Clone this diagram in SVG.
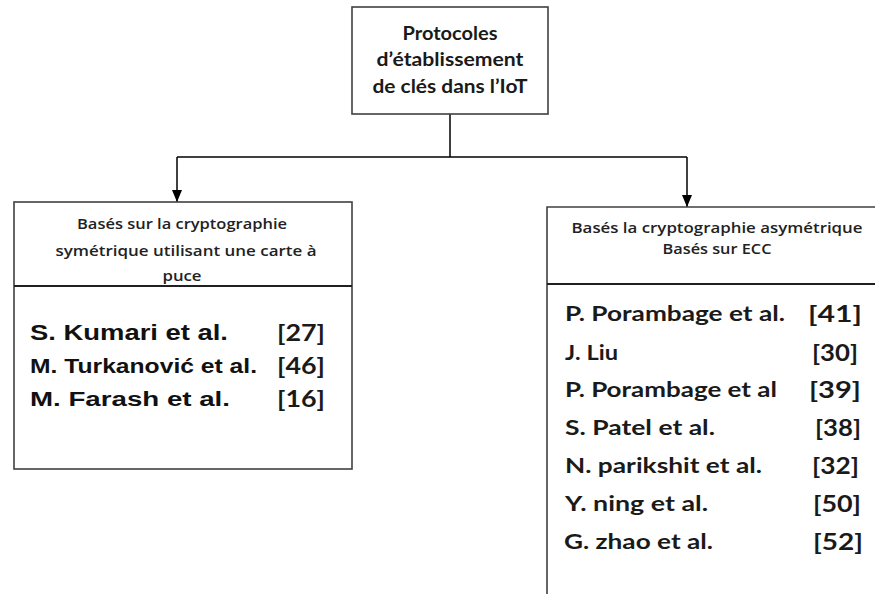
<svg xmlns="http://www.w3.org/2000/svg" width="875" height="594" viewBox="0 0 875 594">
<style>
.box{fill:#fff;stroke:#404040;stroke-width:1.6}
.div{stroke:#202020;stroke-width:2}
.conn{fill:none;stroke:#000;stroke-width:1.5}
.t{font-family:"Open Sans",Lato,"Liberation Sans",sans-serif;font-weight:600;fill:#222}
.tb{font-family:Lato,"Open Sans","Liberation Sans",sans-serif;font-weight:bold;fill:#1a1a1a}
.ar{font-family:"Liberation Sans",Arial,sans-serif;font-weight:bold;fill:#111}
</style>
<defs>
<marker id="ah" markerWidth="12" markerHeight="10" refX="12" refY="5" orient="auto" markerUnits="userSpaceOnUse" viewBox="0 0 12 10">
<path d="M0,0 L12,5 L0,10 Z" fill="#000"/>
</marker>
</defs>
<rect width="875" height="594" fill="#fff"/>
<g id="connectors">
<path class="conn" d="M450,114 V157"/>
<path class="conn" d="M177,157 H687"/>
<path class="conn" d="M177,157 V202" marker-end="url(#ah)"/>
<path class="conn" d="M687,157 V207" marker-end="url(#ah)"/>
</g>
<g id="root">
<rect class="box" x="352" y="7" width="196" height="107"/>
<text class="tb" x="450" y="40" font-size="18.5" text-anchor="middle" textLength="95" lengthAdjust="spacingAndGlyphs">Protocoles</text>
<text class="tb" x="450" y="66" font-size="18.5" text-anchor="middle" textLength="147" lengthAdjust="spacingAndGlyphs">d’établissement</text>
<text class="tb" x="450" y="93" font-size="18.5" text-anchor="middle" textLength="155" lengthAdjust="spacingAndGlyphs">de clés dans l’IoT</text>
</g>
<g id="symetrique">
<rect class="box" x="14" y="202" width="338" height="267"/>
<line class="div" x1="14" y1="286" x2="352" y2="286"/>
<text class="t" x="182" y="229" font-size="14.5" text-anchor="middle" textLength="210" lengthAdjust="spacingAndGlyphs">Basés sur la cryptographie</text>
<text class="t" x="186" y="256" font-size="14.5" text-anchor="middle" textLength="261" lengthAdjust="spacingAndGlyphs">symétrique utilisant une carte à</text>
<text class="t" x="182" y="281" font-size="14.5" text-anchor="middle" textLength="39" lengthAdjust="spacingAndGlyphs">puce</text>
<text class="ar" x="30" y="340" font-size="22" textLength="198" lengthAdjust="spacingAndGlyphs">S. Kumari et al.</text>
<text class="tb" x="277" y="341" font-size="23" textLength="48" lengthAdjust="spacingAndGlyphs">[27]</text>
<text class="ar" x="30" y="373" font-size="20" textLength="227" lengthAdjust="spacingAndGlyphs">M. Turkanović et al.</text>
<text class="tb" x="277" y="374" font-size="23" textLength="48" lengthAdjust="spacingAndGlyphs">[46]</text>
<text class="ar" x="30" y="406" font-size="20" textLength="200" lengthAdjust="spacingAndGlyphs">M. Farash  et al.</text>
<text class="tb" x="277" y="407" font-size="23" textLength="48" lengthAdjust="spacingAndGlyphs">[16]</text>
</g>
<g id="asymetrique">
<path class="box" d="M880,207 H547 V600"/>
<line class="div" x1="547" y1="284" x2="880" y2="284"/>
<text class="t" x="717" y="233" font-size="14" text-anchor="middle" textLength="291" lengthAdjust="spacingAndGlyphs">Basés la cryptographie asymétrique</text>
<text class="t" x="717" y="254" font-size="14" text-anchor="middle" textLength="109" lengthAdjust="spacingAndGlyphs">Basés sur ECC</text>
<text class="tb" x="565" y="321" font-size="21" textLength="220" lengthAdjust="spacingAndGlyphs">P. Porambage et al.</text>
<text class="tb" x="808" y="322" font-size="23" textLength="54" lengthAdjust="spacingAndGlyphs">[41]</text>
<text class="tb" x="565" y="360" font-size="21" textLength="53" lengthAdjust="spacingAndGlyphs">J. Liu</text>
<text class="tb" x="812" y="361" font-size="23" textLength="46" lengthAdjust="spacingAndGlyphs">[30]</text>
<text class="tb" x="565" y="397" font-size="21" textLength="212" lengthAdjust="spacingAndGlyphs">P. Porambage et al</text>
<text class="tb" x="809" y="398" font-size="23" textLength="52" lengthAdjust="spacingAndGlyphs">[39]</text>
<text class="tb" x="565" y="435" font-size="21" textLength="150" lengthAdjust="spacingAndGlyphs">S. Patel et al.</text>
<text class="tb" x="815" y="436" font-size="23" textLength="46" lengthAdjust="spacingAndGlyphs">[38]</text>
<text class="tb" x="565" y="473" font-size="21" textLength="197" lengthAdjust="spacingAndGlyphs">N. parikshit et al.</text>
<text class="tb" x="812" y="474" font-size="23" textLength="47" lengthAdjust="spacingAndGlyphs">[32]</text>
<text class="tb" x="565" y="511" font-size="21" textLength="143" lengthAdjust="spacingAndGlyphs">Y. ning et al.</text>
<text class="tb" x="813" y="512" font-size="23" textLength="48" lengthAdjust="spacingAndGlyphs">[50]</text>
<text class="tb" x="564" y="549" font-size="21" textLength="149" lengthAdjust="spacingAndGlyphs">G. zhao et al.</text>
<text class="tb" x="813" y="550" font-size="23" textLength="50" lengthAdjust="spacingAndGlyphs">[52]</text>
</g>
</svg>
